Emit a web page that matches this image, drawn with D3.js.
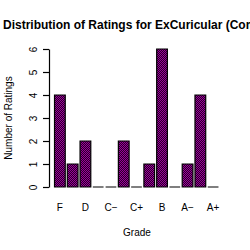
<!DOCTYPE html>
<html>
<head>
<meta charset="utf-8">
<script src="https://cdn.jsdelivr.net/npm/d3@7"></script>
<style>
  body { margin: 0; background: #fff; }
  svg { display: block; font-family: "Liberation Sans", Arial, sans-serif; }
</style>
</head>
<body>
<div id="chart"></div>
<script>
// grades along the x axis, and how many ratings each one got
const grades = ["F", "D\u2212", "D", "D+", "C\u2212", "C", "C+", "B\u2212", "B", "B+", "A\u2212", "A", "A+"];
const counts = [4, 1, 2, 0, 0, 2, 0, 1, 6, 0, 1, 4, 0];
const yTicks = [0, 1, 2, 3, 4, 5, 6];
// only every other grade gets a label
const shownLabels = ["F", "D", "C\u2212", "C+", "B", "A\u2212", "A+"];

const width = 250, height = 250;

const svg = d3.select("#chart").append("svg")
    .attr("width", width)
    .attr("height", height);

// checkered purple fill like the original
const defs = svg.append("defs");
const pat = defs.append("pattern")
    .attr("id", "dither")
    .attr("width", 2).attr("height", 2)
    .attr("patternUnits", "userSpaceOnUse");
pat.append("rect").attr("width", 2).attr("height", 2).attr("fill", "#2a002a");
pat.append("rect").attr("width", 1).attr("height", 1).attr("fill", "#9a009a");
pat.append("rect").attr("x", 1).attr("y", 1).attr("width", 1).attr("height", 1).attr("fill", "#9a009a");

const x = d3.scaleBand()
    .domain(grades)
    .range([53.5, 219.5])
    .paddingInner(0.16)
    .paddingOuter(0.08);

const y = d3.scaleLinear()
    .domain([0, 6])
    .range([187, 49]);

// bars as closed paths so the empty ones still show as a flat line
svg.selectAll(".bar")
    .data(grades)
    .enter().append("path")
    .attr("class", "bar")
    .attr("d", (d, i) => {
        let x0 = x(d), w = x.bandwidth();
        let top = y(counts[i]), h = y(0) - y(counts[i]);
        return `M${x0},${top}h${w}v${h}h${-w}Z`;
    })
    .attr("fill", "url(#dither)")
    .attr("stroke", "#000")
    .attr("stroke-width", 1.2);

// y axis
const yAxis = svg.append("g")
    .attr("transform", "translate(49,0)")
    .call(d3.axisLeft(y).tickValues(yTicks).tickFormat(d3.format("d"))
        .tickSize(6).tickPadding(4).tickSizeOuter(0));
yAxis.select(".domain").attr("stroke-width", 1.2);
yAxis.selectAll(".tick line").attr("stroke-width", 1.2);
yAxis.selectAll(".tick text")
    .attr("font-size", 10)
    .attr("font-family", "Liberation Sans, Arial, sans-serif")
    .attr("text-anchor", "middle")
    .attr("dy", null)
    .attr("x", null)
    .attr("transform", "translate(-16,0) rotate(-90)")
    .attr("dominant-baseline", "central");

// x labels, no axis line
svg.selectAll(".xlab")
    .data(shownLabels)
    .enter().append("text")
    .attr("class", "xlab")
    .attr("x", d => x(d) + x.bandwidth() / 2)
    .attr("y", 211)
    .attr("text-anchor", "middle")
    .attr("font-size", 10)
    .text(d => d);

// titles
svg.append("text")
    .attr("x", 137)
    .attr("y", 236)
    .attr("text-anchor", "middle")
    .attr("font-size", 10)
    .text("Grade");

svg.append("text")
    .attr("transform", "translate(12,118) rotate(-90)")
    .attr("text-anchor", "middle")
    .attr("font-size", 10)
    .text("Number of Ratings");

// the title runs off the right edge in the original too
svg.append("text")
    .attr("x", 3)
    .attr("y", 29)
    .attr("font-size", 12)
    .attr("font-weight", "bold")
    .text("Distribution of Ratings for ExCuricular (Com");
</script>
</body>
</html>
